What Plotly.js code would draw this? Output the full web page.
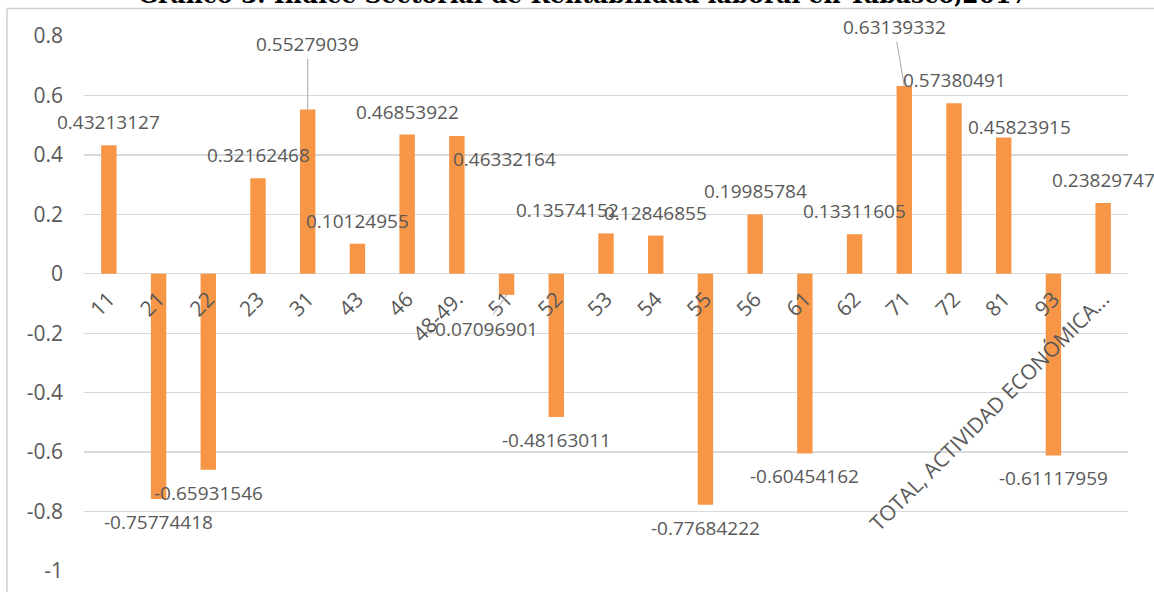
<!DOCTYPE html>
<html>
<head>
<meta charset="utf-8">
<script src="https://cdn.plot.ly/plotly-3.0.1.min.js"></script>
<style>html,body{margin:0;padding:0;background:#fff;}#chart{width:1154px;height:592px;}</style>
</head>
<body>
<div id="chart"></div>
<script>
const chartTitle = 'Gráfico 3. Índice Sectorial de Rentabilidad laboral en Tabasco,2017';
const categories = ['11','21','22','23','31','43','46','48-49.','51','52','53','54','55','56','61','62','71','72','81','93','TOTAL, ACTIVIDAD ECONÓMICA...'];
const values = [0.43213127,-0.75774418,-0.65931546,0.32162468,0.55279039,0.10124955,0.46853922,0.46332164,-0.07096901,-0.48163011,0.13574152,0.12846855,-0.77684222,0.19985784,-0.60454162,0.13311605,0.63139332,0.57380491,0.45823915,-0.61117959,0.23829747];
const yTickVals = [-1,-0.8,-0.6,-0.4,-0.2,0,0.2,0.4,0.6,0.8];
const yTickText = ['-1','-0.8','-0.6','-0.4','-0.2','0','0.2','0.4','0.6','0.8'];

// label placement tweaks (pixels), style only
const labelShift = {7:{dx:48,dy:-46}, 10:{dx:-39,dy:0}, 18:{dx:16,dy:-12}};
const labelLeader = {4:{ax:0,ay:-65}, 8:{ax:-23,ay:34}, 16:{ax:-10,ay:-59}};

const textColor = '#595959';
const gridColor = '#D9D9D9';
const labelFont = {family:'Open Sans, sans-serif', size:19, color:textColor};

// annotation x uses the category index on the category axis
const annotations = values.map((v,i)=>{
  const txt = String(v);
  if (labelLeader[i]) {
    return {x:i, y:v, xref:'x', yref:'y', text:txt, showarrow:true,
      ax:labelLeader[i].ax, ay:labelLeader[i].ay, arrowhead:0, arrowwidth:1, arrowcolor:'#A6A6A6', standoff:0,
      font:labelFont};
  }
  const s = labelShift[i] || {dx:0,dy:0};
  return {x:i, y:v, xref:'x', yref:'y', text:txt, showarrow:false,
    xanchor:'center', yanchor:'middle', xshift:s.dx, yshift:(v>=0?23:-23)+s.dy, font:labelFont};
});

// chart title (top part is cropped in the reference picture)
annotations.push({xref:'paper', yref:'paper', x:0.478, y:1.0467, xanchor:'center', yanchor:'bottom',
  showarrow:false, text:'<b>'+chartTitle+'</b>', font:{family:'DejaVu Serif, serif', size:23.5, color:'#000'}});

const shapes = [
  {type:'line', xref:'paper', yref:'paper', x0:-0.0738, x1:1.03, y0:1.0514, y1:1.0514, line:{color:'#D0D0D0', width:1.5}},
  {type:'line', xref:'paper', yref:'paper', x0:-0.0738, x1:-0.0738, y0:1.0514, y1:-0.05, line:{color:'#D0D0D0', width:1.5}}
];

const trace = {
  type:'bar', x:categories, y:values,
  marker:{color:'#F79646'},
  hoverinfo:'x+y'
};

const layout = {
  width:1154, height:592,
  margin:{l:84, r:26, t:36, b:21},
  paper_bgcolor:'#ffffff', plot_bgcolor:'#ffffff',
  showlegend:false,
  bargap:0.69,
  xaxis:{type:'category', range:[-0.5, categories.length-0.5], autorange:false, anchor:'free', position:1/1.8,
    showgrid:false, showline:false, zeroline:false, ticklabelstandoff:8,
    tickangle:-45, ticks:'', tickfont:{family:'Open Sans, sans-serif', size:21, color:textColor}, automargin:false},
  yaxis:{range:[-1,0.8], autorange:false, tickvals:yTickVals, ticktext:yTickText, showgrid:true, gridcolor:gridColor, gridwidth:1.3,
    zeroline:true, zerolinecolor:gridColor, zerolinewidth:1.3, showline:false, ticks:'', ticklabelstandoff:20,
    tickfont:{family:'Open Sans, sans-serif', size:21, color:textColor}, automargin:false},
  annotations:annotations,
  shapes:shapes
};

Plotly.newPlot('chart', [trace], layout, {displayModeBar:false, staticPlot:true});
</script>
</body>
</html>
